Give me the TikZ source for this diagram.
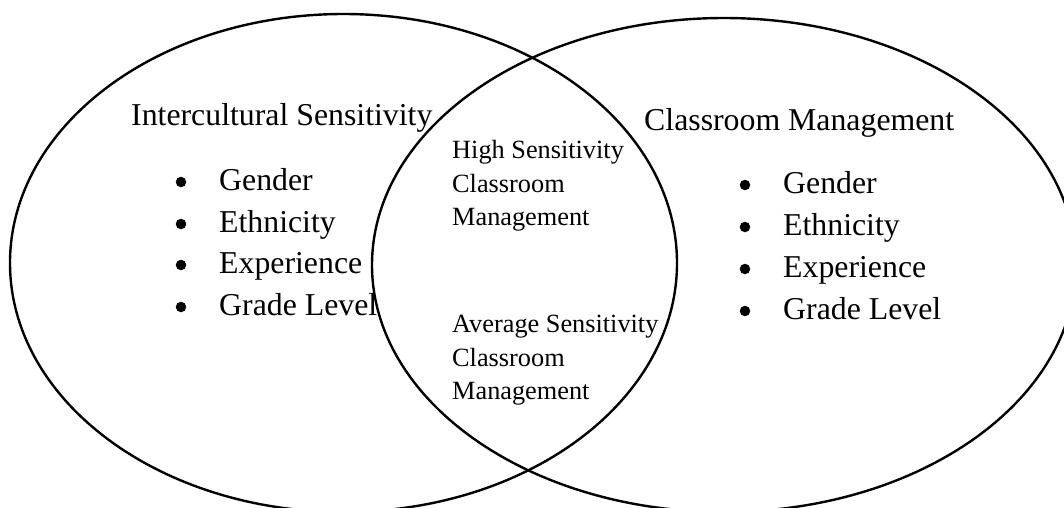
\documentclass[tikz,border=0pt]{standalone}
\usepackage{fontspec}
\setmainfont{Liberation Serif}
\begin{document}
\begin{tikzpicture}[x=1pt,y=-1pt,
  venn/.style={line width=2.4pt, draw=black},
  big/.style={inner sep=0pt, anchor=base west, font=\fontsize{31.8}{38}\selectfont},
  mid/.style={inner sep=0pt, anchor=base west, font=\fontsize{26.3}{32}\selectfont},
  bul/.style={circle, fill=black, inner sep=0pt, minimum size=10.5pt}]
\useasboundingbox (0,0) rectangle (1064,507);
\clip (0,0) rectangle (1064,507);
\coordinate (cl) at (343.5,263);
\coordinate (cr) at (724,265);
\draw[venn] (cl) ellipse [x radius=333.5, y radius=249];
\draw[venn] (cr) ellipse [x radius=352, y radius=247];

% left set
\node[big] (lt) at (131,125) {Intercultural Sensitivity};
\node[bul] (lb1) at (181,182) {};
\node[bul] (lb2) at (181,224) {};
\node[bul] (lb3) at (181,265) {};
\node[bul] (lb4) at (181,307) {};
\node[big] (l1) at (219,190) {Gender};
\node[big] (l2) at (219,232) {Ethnicity};
\node[big] (l3) at (219,273) {Experience};
\node[big] (l4) at (219,315) {Grade Level};

% right set
\node[big] (rt) at (644,130) {Classroom Management};
\node[bul] (rb1) at (745,185) {};
\node[bul] (rb2) at (745,227) {};
\node[bul] (rb3) at (745,269) {};
\node[bul] (rb4) at (745,311) {};
\node[big] (r1) at (783,193) {Gender};
\node[big] (r2) at (783,235) {Ethnicity};
\node[big] (r3) at (783,277) {Experience};
\node[big] (r4) at (783,319) {Grade Level};

% intersection
\node[mid] (h1) at (452,158) {High Sensitivity};
\node[mid] (h2) at (452,192) {Classroom};
\node[mid] (h3) at (452,225) {Management};
\node[mid] (a1) at (452,332) {Average Sensitivity};
\node[mid] (a2) at (452,366) {Classroom};
\node[mid] (a3) at (452,399) {Management};
\end{tikzpicture}
\end{document}
